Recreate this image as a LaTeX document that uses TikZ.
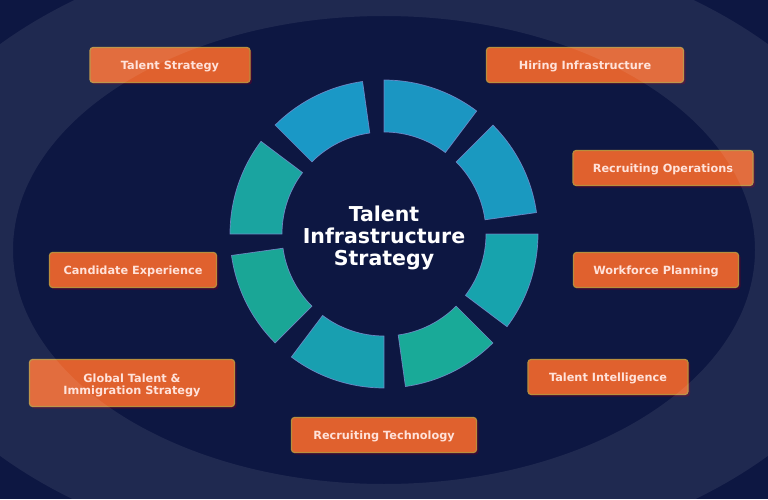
\documentclass[tikz,border=0pt]{standalone}
\usepackage{fontspec}
\setsansfont{DejaVu Sans}
\usepackage{tikz}
\usetikzlibrary{shadows}
\usetikzlibrary{positioning}

\definecolor{bgnavy}{HTML}{0D1742}
\definecolor{boxorange}{HTML}{E0612E}
\definecolor{boxrim}{HTML}{B88E3C}
\definecolor{boxshade}{HTML}{3A0A34}
\definecolor{boxtext}{HTML}{FFE2DA}
\definecolor{segrim}{HTML}{7F8FD2}

\tikzset{
  pillar/.style={rectangle, rounded corners=3pt, fill=boxorange, draw=boxrim, line width=1.2pt,
    text=boxtext, font=\sffamily\bfseries\fontsize{11.3}{11}\selectfont,
    minimum height=35pt, inner sep=0pt, text height=9pt, text depth=0.6pt,
    drop shadow={shadow xshift=2pt, shadow yshift=-2pt, fill=boxshade, opacity=1}},
  segment/.style={draw=segrim, line width=0.7pt, draw opacity=0.8},
}

\begin{document}
\begin{tikzpicture}[x=1pt, y=1pt]
		\useasboundingbox (0,0) rectangle (768,499);
		\fill[bgnavy] (0,0) rectangle (768,499); %% background

		% ring of eight segments
		\foreach \s/\c in {90/1B96C2, 45/1A99C0, 0/17A3AD, -45/19AA98, -90/189FB0, -135/1AA696, -180/1AA4A0, -225/1A98C6}{
			\definecolor{segfill}{HTML}{\c}
			\filldraw[segment, fill=segfill, shift={(384,265)}]
				(\s:154) arc (\s:\s-37:154) -- (\s-37:102) arc (\s-37:\s:102) -- cycle;
		}
		\node[text=white, font=\sffamily\bfseries\fontsize{20.5}{22}\selectfont, align=center] (hub) at (384,261)
			{Talent\\Infrastructure\\Strategy}; %% centre title

		% pillars round the ring
		\node[pillar, minimum width=160pt] (talentstrategy) at (170,434) {Talent Strategy};
		\node[pillar, minimum width=197pt] (hiringinfra) at (585,434) {Hiring Infrastructure};
		\node[pillar, minimum width=180pt] (recruitingops) at (663,331) {Recruiting Operations};
		\node[pillar, minimum width=165pt] (workforce) at (656,229) {Workforce Planning};
		\node[pillar, minimum width=160pt] (intelligence) at (608,122) {Talent Intelligence};
		\node[pillar, minimum width=185pt] (recruitingtech) at (384,64) {Recruiting Technology};
		\node[pillar, minimum width=205pt, minimum height=47pt, text height=, text depth=] (globaltalent) at (132,116)
			{\raisebox{-3pt}[14pt][8pt]{\begin{tabular}{@{}c@{}}Global Talent \&\\Immigration Strategy\end{tabular}}};
		\node[pillar, minimum width=167pt] (candidate) at (133,229) {Candidate Experience};

		\fill[white, opacity=0.08, even odd rule] (384,249) ellipse (506 and 316) (384,249) ellipse (371 and 234); %% light band
	\end{tikzpicture}
\end{document}
